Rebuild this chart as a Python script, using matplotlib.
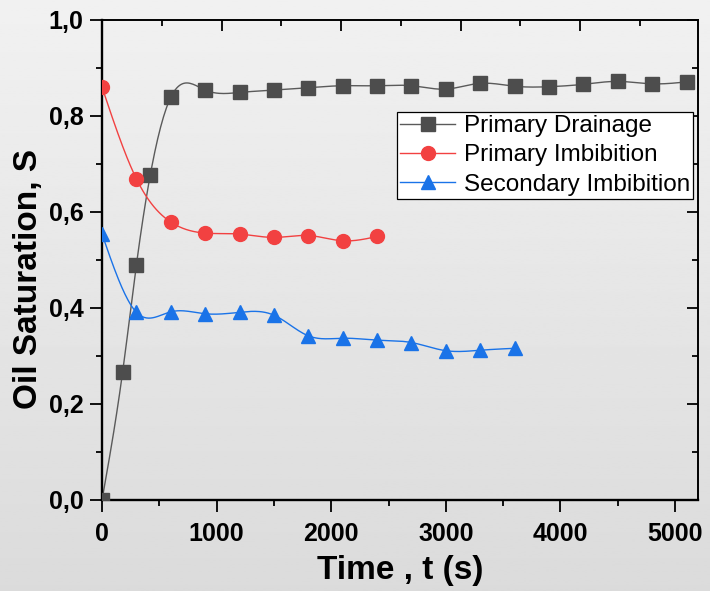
import numpy as np
import matplotlib
matplotlib.use('Agg')
import matplotlib.pyplot as plt
from matplotlib.ticker import MultipleLocator, FuncFormatter

plt.rcParams['font.family'] = ['Liberation Sans', 'DejaVu Sans']

# Data
drain_t = [0, 180, 300, 420, 600, 900, 1200, 1500, 1800, 2100, 2400, 2700,
           3000, 3300, 3600, 3900, 4200, 4500, 4800, 5100]
drain_s = [0.0, 0.267, 0.49, 0.676, 0.839, 0.854, 0.849, 0.854, 0.859, 0.863,
           0.863, 0.863, 0.856, 0.868, 0.862, 0.861, 0.866, 0.872, 0.867, 0.871]

imb1_t = [0, 300, 600, 900, 1200, 1500, 1800, 2100, 2400]
imb1_s = [0.86, 0.669, 0.579, 0.556, 0.554, 0.547, 0.551, 0.54, 0.549]

imb2_t = [0, 300, 600, 900, 1200, 1500, 1800, 2100, 2400, 2700, 3000, 3300, 3600]
imb2_s = [0.554, 0.391, 0.392, 0.388, 0.391, 0.385, 0.342, 0.337, 0.333,
          0.328, 0.311, 0.312, 0.316]

labels = ['Primary Drainage', 'Primary Imbibition', 'Secondary Imbibition']
colors = ['#4d4d4d', '#f24141', '#1a73e8']
line_colors = ['#5a5a5a', '#f24141', '#1a73e8']
markers = ['s', 'o', '^']


def spline(x, y, num=400):
    # natural cubic spline, used only to draw the connecting line
    x = np.asarray(x, float)
    y = np.asarray(y, float)
    n = len(x)
    h = np.diff(x)
    A = np.zeros((n, n))
    b = np.zeros(n)
    A[0, 0] = A[-1, -1] = 1
    for i in range(1, n - 1):
        A[i, i - 1] = h[i - 1]
        A[i, i] = 2 * (h[i - 1] + h[i])
        A[i, i + 1] = h[i]
        b[i] = 3 * ((y[i + 1] - y[i]) / h[i] - (y[i] - y[i - 1]) / h[i - 1])
    c = np.linalg.solve(A, b)
    xs = np.linspace(x[0], x[-1], num)
    idx = np.clip(np.searchsorted(x, xs) - 1, 0, n - 2)
    dt = xs - x[idx]
    bb = (y[idx + 1] - y[idx]) / h[idx] - h[idx] * (2 * c[idx] + c[idx + 1]) / 3
    d = (c[idx + 1] - c[idx]) / (3 * h[idx])
    ys = y[idx] + bb * dt + c[idx] * dt ** 2 + d * dt ** 3
    return xs, ys


fig = plt.figure(figsize=(7.1, 5.91), dpi=100)

# gray gradient background
bg = fig.add_axes([0, 0, 1, 1], zorder=-10)
grad = np.linspace(241, 219, 256).reshape(-1, 1) / 255.0
bg.imshow(grad, aspect='auto', cmap='gray', vmin=0, vmax=1, extent=[0, 1, 0, 1])
bg.axis('off')

ax = fig.add_axes([0.1437, 0.154, 0.8394, 0.8122])
ax.set_facecolor('none')

series = [(drain_t, drain_s), (imb1_t, imb1_s), (imb2_t, imb2_s)]
for (t, s), lab, col, lcol, m in zip(series, labels, colors, line_colors, markers):
    xs, ys = spline(t, s)
    ax.plot(xs, ys, color=lcol, lw=1.0, zorder=2)
    ax.plot(t, s, ls='none', marker=m, ms=10 if m != 's' else 9.5,
            color=col, mec=col, zorder=3)

ax.set_xlim(0, 5200)
ax.set_ylim(0, 1.0)
ax.xaxis.set_major_locator(MultipleLocator(1000))
ax.xaxis.set_minor_locator(MultipleLocator(500))
ax.yaxis.set_major_locator(MultipleLocator(0.2))
ax.yaxis.set_minor_locator(MultipleLocator(0.1))
ax.yaxis.set_major_formatter(FuncFormatter(lambda v, p: f'{v:.1f}'.replace('.', ',')))

ax.tick_params(which='major', direction='out', length=8.5, width=1.3, pad=5,
               labelsize=18)
ax.tick_params(axis='x', which='major', pad=7)
ax.tick_params(which='minor', direction='out', length=4, width=1.3)
for lbl in ax.get_xticklabels() + ax.get_yticklabels():
    lbl.set_fontweight('bold')

for side in ['left', 'bottom']:
    ax.spines[side].set_linewidth(1.7)
for side in ['top', 'right']:
    ax.spines[side].set_linewidth(1.2)

# inward ticks on top and right, top scale slightly different as in the source
top = ax.secondary_xaxis('top', functions=(lambda v: v * 0.9588, lambda v: v / 0.9588))
top.xaxis.set_major_locator(MultipleLocator(1000))
top.xaxis.set_minor_locator(MultipleLocator(500))
top.tick_params(which='major', direction='in', length=8, width=1.3, labeltop=False)
top.tick_params(which='minor', direction='in', length=4, width=1.3)
top.spines['top'].set_linewidth(1.2)

right = ax.secondary_yaxis('right')
right.yaxis.set_major_locator(MultipleLocator(0.2))
right.yaxis.set_minor_locator(MultipleLocator(0.1))
right.tick_params(which='major', direction='in', length=8, width=1.3, labelright=False)
right.tick_params(which='minor', direction='in', length=4, width=1.3)
right.spines['right'].set_linewidth(1.2)

ax.set_xlabel('Time , t (s)', fontsize=24, fontweight='bold', labelpad=7)
ax.set_ylabel('Oil Saturation, S', fontsize=24, fontweight='bold')
ax.yaxis.set_label_coords(-0.097, 0.46)

handles = [plt.Line2D([], [], color=lc, lw=1.0, marker=m, ms=10 if m != 's' else 9.5,
                      mfc=c, mec=c)
           for c, lc, m in zip(colors, line_colors, markers)]
leg = ax.legend(handles, labels, loc='upper left', bbox_to_anchor=(0.495, 0.808),
                borderaxespad=0, borderpad=0.12, fontsize=17.5, labelspacing=0.3,
                handlelength=2.27, handletextpad=0.37, fancybox=False,
                framealpha=1, facecolor='white', edgecolor='black')
leg.get_frame().set_linewidth(0.9)

fig.savefig('out.png', dpi=100)
